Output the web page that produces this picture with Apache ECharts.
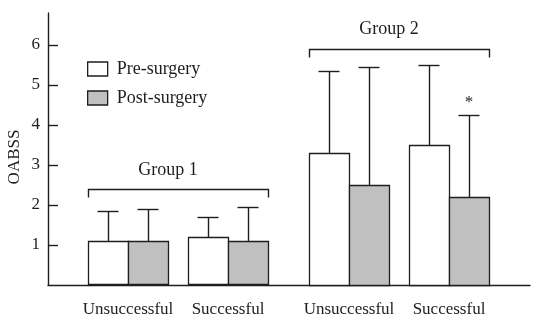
<!DOCTYPE html>
<html>
<head>
<meta charset="utf-8">
<script src="https://cdn.jsdelivr.net/npm/echarts@6/dist/echarts.min.js"></script>
<style>html,body{margin:0;padding:0;background:#fff}#c{width:550px;height:329px}</style>
</head>
<body>
<div id="c"></div>
<script>
const categories = ['Unsuccessful', 'Successful', 'Unsuccessful', 'Successful'];
const groups = ['Group 1', 'Group 2'];
const preMean = [1.08, 1.18, 3.3, 3.5];
const preErrTop = [1.85, 1.7, 5.35, 5.5];
const postMean = [1.08, 1.08, 2.5, 2.2];
const postErrTop = [1.9, 1.95, 5.45, 4.25];
const yTicks = [1, 2, 3, 4, 5, 6];
const seriesNames = ['Pre-surgery', 'Post-surgery'];
const significant = [false, false, false, true]; // post-surgery marked with *

const FONT = 'Liberation Serif';
const INK = '#1e1e1e';
const barW = 0.4;
const pos = i => 1 + i + (i >= 2 ? 0.21 : 0);
const bracketLevel = [2.39, 5.9];
const labelLevel = [2.88, 6.4];

function crisp(v) { return Math.round(v - 0.5) + 0.5; }

function barRender(side, fill) {
  return function (params, api) {
    const x = api.value(0), m = api.value(1), e = api.value(2);
    const x0 = side < 0 ? x - barW : x, x1 = side < 0 ? x : x + barW;
    const a = api.coord([x0, m]), b = api.coord([x1, 0]);
    const c = api.coord([(x0 + x1) / 2, e]);
    const cl = api.coord([(x0 + x1) / 2 - 0.105, e]);
    const cr = api.coord([(x0 + x1) / 2 + 0.105, e]);
    const cx = crisp(c[0]);
    const children = [
      { type: 'line', shape: { x1: cx, y1: crisp(a[1]), x2: cx, y2: crisp(c[1]) }, style: { stroke: INK, lineWidth: 1.4 } },
      { type: 'line', shape: { x1: cl[0], y1: crisp(c[1]), x2: cr[0], y2: crisp(c[1]) }, style: { stroke: INK, lineWidth: 1.4 } },
      { type: 'rect', shape: { x: crisp(a[0]), y: crisp(a[1]), width: Math.round(b[0] - a[0]), height: Math.round(b[1] - a[1]) }, style: { fill: fill, stroke: INK, lineWidth: 1.3 } }
    ];
    if (side > 0 && significant[params.dataIndex]) {
      const s = api.coord([(x0 + x1) / 2, e + 0.3]);
      children.push({ type: 'text', style: { text: '*', x: s[0], y: s[1], fill: INK, font: '17px "' + FONT + '"', align: 'center', verticalAlign: 'middle' } });
    }
    return { type: 'group', children: children };
  };
}

const preData = categories.map((c, i) => [pos(i), preMean[i], preErrTop[i]]);
const postData = categories.map((c, i) => [pos(i), postMean[i], postErrTop[i]]);
const bracketData = groups.map((g, k) => [pos(2 * k) - barW, pos(2 * k + 1) + barW, bracketLevel[k], labelLevel[k]]);

const chart = echarts.init(document.getElementById('c'), null, { renderer: 'canvas' });
chart.setOption({
  animation: false,
  backgroundColor: '#fff',
  textStyle: { fontFamily: FONT },
  grid: { left: 48, right: 20, top: 13, bottom: 44 },
  legend: {
    orient: 'vertical', left: 87, top: 60, padding: 0, itemWidth: 20, itemHeight: 14, itemGap: 11,
    textStyle: { fontFamily: FONT, fontSize: 18, color: INK, padding: [0, 0, 0, 4] },
    data: [
      { name: seriesNames[0], icon: 'rect', itemStyle: { color: '#ffffff', borderColor: INK, borderWidth: 1.3 } },
      { name: seriesNames[1], icon: 'rect', itemStyle: { color: '#c0c0c0', borderColor: INK, borderWidth: 1.3 } }
    ]
  },
  xAxis: {
    type: 'value', min: 0.2, max: 5.02,
    splitLine: { show: false },
    axisLine: { show: true, lineStyle: { color: INK, width: 1.4 } },
    axisTick: { show: false },
    axisLabel: {
      customValues: categories.map((c, i) => pos(i)),
      formatter: v => { const i = categories.findIndex((c, k) => Math.abs(pos(k) - v) < 1e-6); return i >= 0 ? categories[i] : ''; },
      fontFamily: FONT, fontSize: 17, color: INK, margin: 16
    }
  },
  yAxis: {
    type: 'value', min: 0, max: 6.8,
    splitLine: { show: false },
    axisLine: { show: true, lineStyle: { color: INK, width: 1.4 } },
    axisTick: { show: true, inside: true, length: 10, customValues: yTicks, lineStyle: { color: INK, width: 1.4 } },
    axisLabel: { customValues: yTicks, fontFamily: FONT, fontSize: 17, color: INK, margin: 8 }
  },
  graphic: [{
    type: 'text', x: 15, y: 157, rotation: Math.PI / 2,
    style: { text: 'OABSS', font: '17px "' + FONT + '"', fill: INK, align: 'center', verticalAlign: 'middle' }
  }],
  series: [
    { name: seriesNames[0], type: 'custom', data: preData, encode: { x: 0, y: [1, 2] }, itemStyle: { color: '#ffffff', borderColor: INK }, renderItem: barRender(-1, '#ffffff'), z: 2 },
    { name: seriesNames[1], type: 'custom', data: postData, encode: { x: 0, y: [1, 2] }, itemStyle: { color: '#c0c0c0', borderColor: INK }, renderItem: barRender(1, '#c0c0c0'), z: 2 },
    {
      name: 'brackets', type: 'custom', data: bracketData, encode: { x: [0, 1], y: [2, 3] }, silent: true,
      renderItem: function (params, api) {
        const x0 = api.value(0), x1 = api.value(1), lv = api.value(2), tl = api.value(3);
        const a = api.coord([x0, lv]), b = api.coord([x1, lv]);
        const t = api.coord([(x0 + x1) / 2 - 0.1, tl]);
        const y = crisp(a[1]);
        return {
          type: 'group', children: [
            { type: 'polyline', shape: { points: [[crisp(a[0]), y + 8], [crisp(a[0]), y], [crisp(b[0]), y], [crisp(b[0]), y + 8]] }, style: { stroke: INK, lineWidth: 1.4, fill: null } },
            { type: 'text', style: { text: groups[params.dataIndex], x: t[0], y: t[1], font: '18px "' + FONT + '"', fill: INK, align: 'center', verticalAlign: 'middle' } }
          ]
        };
      }
    }
  ]
});
</script>
</body>
</html>
